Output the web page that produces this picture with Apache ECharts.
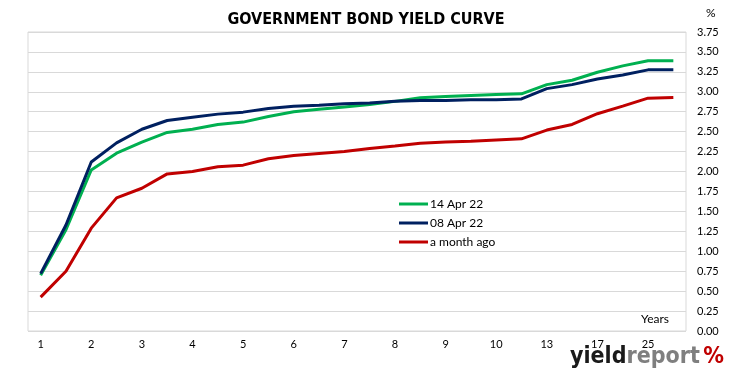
<!DOCTYPE html>
<html>
<head>
<meta charset="utf-8">
<script src="https://cdn.jsdelivr.net/npm/echarts@6/dist/echarts.min.js"></script>
<style>
html,body{margin:0;padding:0;background:#fff;}
#chart{width:732px;height:382px;}
</style>
</head>
<body>
<div id="chart"></div>
<script>
// Maturities (years); only every other one is labelled on the axis
const categories = ["1","1.5","2","2.5","3","3.5","4","4.5","5","5.5","6","6.5","7","7.5","8","8.5","9","9.5","10","11","13","15","17","20","25","30"];
const seriesNames = ["14 Apr 22", "08 Apr 22", "a month ago"];
const apr14 = [0.70,1.27,2.02,2.23,2.37,2.49,2.53,2.59,2.62,2.69,2.75,2.78,2.81,2.84,2.88,2.925,2.94,2.955,2.965,2.975,3.09,3.145,3.245,3.325,3.39,3.39];
const apr08 = [0.72,1.33,2.12,2.36,2.53,2.64,2.68,2.72,2.745,2.79,2.82,2.83,2.85,2.86,2.88,2.89,2.89,2.90,2.90,2.91,3.04,3.09,3.16,3.21,3.275,3.275];
const monthAgo = [0.425,0.75,1.29,1.67,1.79,1.97,2.00,2.06,2.08,2.16,2.20,2.225,2.25,2.29,2.32,2.355,2.37,2.38,2.395,2.41,2.52,2.59,2.725,2.82,2.92,2.93];
const yTicks = {min: 0, max: 3.75, interval: 0.25};

const small = 'Lato, "Open Sans", sans-serif';
const logoFont = '"DejaVu Sans Condensed", sans-serif';
const chart = echarts.init(document.getElementById('chart'), null, {renderer: 'canvas'});
const mk = (name, data, color) => ({
  name, type: 'line', data, symbol: 'none', showSymbol: false, smooth: false,
  lineStyle: {color, width: 3}, itemStyle: {color}, animation: false
});
chart.setOption({
  animation: false,
  title: {
    text: 'GOVERNMENT BOND YIELD CURVE', left: 'center', top: 7,
    textStyle: {fontFamily: '"Liberation Sans Narrow", "DejaVu Sans Condensed", sans-serif', fontWeight: 'bold', fontSize: 16, color: '#000'}
  },
  grid: {left: 28, right: 46, top: 32, bottom: 51, show: true, borderColor: '#d9d9d9', borderWidth: 1},
  legend: {
    data: seriesNames.map(n => ({name: n, icon: 'rect'})), orient: 'vertical', left: 394, top: 193,
    itemWidth: 29, itemHeight: 3, itemGap: 7,
    textStyle: {fontFamily: small, fontSize: 12, color: '#000', padding: [0, 0, 0, -3]}
  },
  xAxis: {
    type: 'category', data: categories, boundaryGap: true,
    axisLine: {show: false}, axisTick: {show: false},
    axisLabel: {interval: 1, margin: 8, fontFamily: small, fontSize: 11, color: '#000'}
  },
  yAxis: {
    type: 'value', position: 'right', min: yTicks.min, max: yTicks.max, interval: yTicks.interval,
    axisLine: {show: false}, axisTick: {show: false},
    splitLine: {lineStyle: {color: '#d9d9d9', width: 1}},
    axisLabel: {margin: 11, fontFamily: small, fontSize: 11, color: '#000', formatter: v => v.toFixed(2)}
  },
  graphic: [
    {type: 'text', left: 706, top: 7, style: {text: '%', fontFamily: small, fontSize: 12, fill: '#000'}},
    {type: 'text', left: 641, top: 313, style: {text: 'Years', fontFamily: small, fontSize: 12, fill: '#000'}},
    {type: 'text', left: 570, top: 346, style: {
      text: '{a|yield}{b|report} {c|%}',
      rich: {
        a: {fontFamily: logoFont, fontWeight: 'bold', fontSize: 23, fill: '#1a1a1a'},
        b: {fontFamily: logoFont, fontWeight: 'bold', fontSize: 23, fill: '#7f7f7f'},
        c: {fontFamily: logoFont, fontWeight: 'bold', fontSize: 23, fill: '#c00000'}
      }
    }}
  ],
  series: [
    mk(seriesNames[0], apr14, '#00b050'),
    mk(seriesNames[1], apr08, '#002060'),
    mk(seriesNames[2], monthAgo, '#c00000')
  ]
});
</script>
</body>
</html>
